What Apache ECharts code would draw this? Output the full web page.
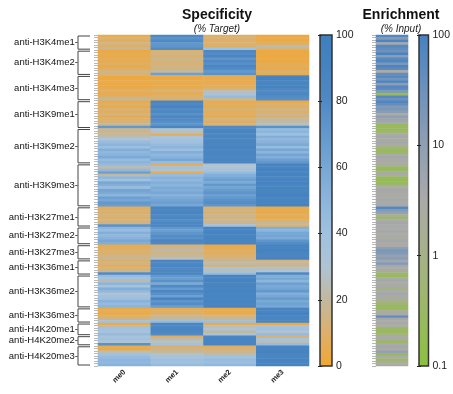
<!DOCTYPE html>
<html><head><meta charset="utf-8">
<script src="https://cdn.jsdelivr.net/npm/echarts@6/dist/echarts.min.js"></script>
<style>html,body{margin:0;padding:0;background:#fff}#c{width:453px;height:394px}</style>
</head><body><div id="c"></div><script>
const marks = ['me0', 'me1', 'me2', 'me3'];
const groups = ['anti-H3K4me1', 'anti-H3K4me2', 'anti-H3K4me3', 'anti-H3K9me1', 'anti-H3K9me2', 'anti-H3K9me3',
  'anti-H3K27me1', 'anti-H3K27me2', 'anti-H3K27me3', 'anti-H3K36me1', 'anti-H3K36me2', 'anti-H3K36me3',
  'anti-H4K20me1', 'anti-H4K20me2', 'anti-H4K20me3'];

// Specificity (% target), rows = antibodies, columns = me0..me3
const specH3K4me1 = [[5,82,10,3],[12,75,13,5],[8,80,9,4],[15,70,12,6],[10,72,8,22],[18,78,40,14]];
const specH3K4me2 = [[3,12,82,3],[6,15,78,4],[4,10,85,2],[8,18,72,5],[5,14,80,3],[10,12,76,6],[4,16,83,8],[7,13,79,4],[15,20,70,10],[12,65,75,5]];
const specH3K4me3 = [[3,4,5,88],[2,3,6,90],[5,6,4,85],[4,5,8,87],[3,4,6,89],[6,8,12,82],[8,10,25,80],[5,6,35,84],[10,12,45,78],[18,10,20,76]];
const specH3K9me1 = [[6,85,5,4],[10,80,8,12],[4,88,6,8],[12,78,12,15],[8,82,7,10],[15,75,10,18],[6,84,5,12],[10,80,14,20],[14,76,8,22],[18,72,12,25],[70,85,80,75]];
const specH3K9me2 = [[18,30,85,45],[16,25,88,50],[20,8,82,42],[24,32,86,55],[35,40,84,48],[45,38,87,52],[50,45,85,58],[42,50,88,45],[55,42,83,60],[48,55,86,50],[52,48,85,62],[58,52,84,55],[45,60,87,65],[50,45,85,70]];
const specH3K9me3 = [[45,8,30,88],[22,40,32,86],[48,28,35,90],[65,6,45,87],[20,45,55,89],[50,52,60,85],[40,48,65,88],[60,55,58,90],[55,50,70,86],[45,58,62,89],[62,55,68,87],[58,60,72,88],[50,52,65,90],[65,58,70,85],[60,62,75,88],[70,65,78,86],[68,60,72,89]];
const specH3K27me1 = [[8,85,12,5],[12,82,15,6],[10,86,10,4],[14,80,18,8],[9,84,13,5],[16,78,20,10],[12,83,15,20],[75,85,40,12]];
const specH3K27me2 = [[50,70,88,55],[45,65,86,50],[55,72,89,60],[48,78,87,62],[52,75,88,58],[60,85,86,72],[55,80,88,78]];
const specH3K27me3 = [[5,12,4,88],[8,18,6,86],[12,22,10,90],[10,15,8,87],[15,20,12,85],[18,25,14,88]];
const specH3K36me1 = [[10,85,18,15],[14,82,22,18],[8,86,15,20],[12,80,35,25],[16,84,25,30],[80,85,45,82]];
const specH3K36me2 = [[45,70,88,55],[40,65,86,60],[22,75,89,50],[50,60,87,65],[35,80,88,58],[55,68,86,62],[48,85,89,70],[30,75,87,55],[38,65,88,60],[42,88,86,68],[52,72,89,58],[45,78,87,64],[50,68,88,60]];
const specH3K36me3 = [[4,6,5,88],[6,8,4,86],[5,12,8,90],[10,18,15,87],[14,20,18,85],[40,45,42,88]];
const specH4K20me1 = [[5,85,6,4],[22,82,25,35],[40,86,30,40],[35,84,20,30],[45,80,35,45]];
const specH4K20me2 = [[35,8,85,12],[40,22,88,35],[30,28,86,25],[75,40,87,45]];
const specH4K20me3 = [[6,10,8,88],[4,15,12,86],[25,20,18,90],[40,28,22,87],[45,35,40,85],[50,42,45,88],[48,40,42,86],[52,45,48,89]];

// Enrichment (% input), one value per antibody row
const enrichment = [
  70,15,80,4,60,45,
  30,90,12,60,75,20,85,50,3,40,
  65,25,80,12,70,50,18,0.25,60,30,
  75,40,15,20,12,3,10,6,4,0.3,0.25,
  0.3,0.4,3,4,2.5,4,3,0.8,0.3,0.25,3,4,2.5,3,
  3,0.3,0.25,2.5,3,0.3,0.2,0.25,0.4,3,4,3.5,2.5,3,4,3,3.5,
  60,15,8,1.2,0.5,3,4,3.5,
  3,4,3.5,2.5,3,4,3,
  3,10,20,15,8,12,
  5,15,4,3,2.5,0.6,
  0.2,3,4,2.5,3.5,0.8,3,4,2.5,3,1,0.5,0.25,
  0.25,2.5,3,40,4,3,
  2.5,3,0.3,0.25,1,
  3,2.5,0.3,3,
  4,3,8,0.3,3,0.6,1,3
];

const specColors = ['#F2A632','#DDB06A','#C2B89E','#AFC3D3','#A0C1E0','#8CB5DC','#77A7D5','#6299CD','#5089C4','#4583C0','#3F7FBD'];
const enrColors = ['#8CC03F','#9BB865','#A6B188','#AAAAA8','#8F9FB3','#6D91BE','#4682C0'];

const FONT = 'Liberation Sans, Arial, sans-serif';
const specRows = [].concat(specH3K4me1, specH3K4me2, specH3K4me3, specH3K9me1, specH3K9me2, specH3K9me3,
  specH3K27me1, specH3K27me2, specH3K27me3, specH3K36me1, specH3K36me2, specH3K36me3,
  specH4K20me1, specH4K20me2, specH4K20me3);
const groupSizes = [specH3K4me1, specH3K4me2, specH3K4me3, specH3K9me1, specH3K9me2, specH3K9me3,
  specH3K27me1, specH3K27me2, specH3K27me3, specH3K36me1, specH3K36me2, specH3K36me3,
  specH4K20me1, specH4K20me2, specH4K20me3].map(a => a.length);
const rowNames = specRows.map((_, i) => 'Ab' + (i + 1));
const specData = [];
specRows.forEach((r, i) => r.forEach((v, j) => specData.push([j, i, v])));
const enrData = enrichment.map((v, i) => [0, i, Math.log10(v), v]);
let st = 0;
const groupData = groups.map((g, k) => { const d = [0, st, st + groupSizes[k] - 1, k]; st += groupSizes[k]; return d; });

function grad(colors) {
  return { type: 'linear', x: 0, y: 1, x2: 0, y2: 0,
    colorStops: colors.map((c, i) => ({ offset: i / (colors.length - 1), color: c })) };
}
const cbAxis = (gi, extra, pos, labels) => Object.assign({
  gridIndex: gi, position: pos, axisLine: { show: false }, splitLine: { show: false },
  axisTick: { show: true, inside: true, length: 2, lineStyle: { color: '#222', width: 1 } },
  axisLabel: { show: labels, fontSize: 10.5, color: '#222', fontFamily: FONT, margin: 4 }
}, extra);
const rowAxis = gi => ({
  gridIndex: gi, type: 'category', data: rowNames, inverse: true,
  axisLine: { show: false }, axisLabel: { show: false },
  axisTick: { show: true, interval: 0, length: 4, lineStyle: { color: '#b8b8b8', width: 1 } }
});

const chart = echarts.init(document.getElementById('c'));
chart.setOption({
  animation: false,
  title: [
    { text: 'Specificity', subtext: '(% Target)', left: 212, top: 3, textAlign: 'center', itemGap: 2,
      textStyle: { fontFamily: FONT, fontWeight: 'bold', fontSize: 14, color: '#111' },
      subtextStyle: { fontFamily: FONT, fontStyle: 'italic', fontSize: 10, color: '#222' } },
    { text: 'Enrichment', subtext: '(% Input)', left: 396, top: 3, textAlign: 'center', itemGap: 2,
      textStyle: { fontFamily: FONT, fontWeight: 'bold', fontSize: 14, color: '#111' },
      subtextStyle: { fontFamily: FONT, fontStyle: 'italic', fontSize: 10, color: '#222' } }
  ],
  grid: [
    { left: 98, top: 35, width: 211, height: 331 },
    { left: 376, top: 35, width: 32, height: 331 },
    { left: 320, top: 35, width: 12, height: 331, show: true, backgroundColor: grad(specColors), borderColor: '#333', borderWidth: 1.5 },
    { left: 419, top: 35, width: 12, height: 331, show: true, backgroundColor: grad(enrColors), borderColor: '#333', borderWidth: 1.5 }
  ],
  xAxis: [
    { gridIndex: 0, type: 'category', data: marks, axisLine: { show: false }, axisTick: { show: false },
      axisLabel: { rotate: 45, fontSize: 7.5, fontWeight: 'bold', color: '#222', fontFamily: FONT, margin: 5 } },
    { gridIndex: 1, type: 'category', data: ['E'], show: false },
    { gridIndex: 2, type: 'value', show: false, min: 0, max: 1 },
    { gridIndex: 3, type: 'value', show: false, min: 0, max: 1 }
  ],
  yAxis: [
    rowAxis(0), rowAxis(1),
    cbAxis(2, { type: 'value', min: 0, max: 100, interval: 20 }, 'right', true),
    cbAxis(2, { type: 'value', min: 0, max: 100, interval: 20 }, 'left', false),
    cbAxis(3, { type: 'log', logBase: 10, min: 0.1, max: 100 }, 'right', true),
    cbAxis(3, { type: 'log', logBase: 10, min: 0.1, max: 100 }, 'left', false)
  ],
  visualMap: [
    { type: 'continuous', show: false, min: 0, max: 100, dimension: 2, seriesIndex: 0, inRange: { color: specColors } },
    { type: 'continuous', show: false, min: -1, max: 2, dimension: 2, seriesIndex: 1, inRange: { color: enrColors } }
  ],
  series: [
    { type: 'heatmap', xAxisIndex: 0, yAxisIndex: 0, data: specData },
    { type: 'heatmap', xAxisIndex: 1, yAxisIndex: 1, data: enrData },
    { type: 'custom', xAxisIndex: 0, yAxisIndex: 0, data: groupData, encode: { x: 0, y: 1 }, clip: false, silent: true,
      renderItem: function (params, api) {
        const s = api.value(1), e = api.value(2), k = api.value(3);
        const h = api.size([0, 1])[1];
        const cw = api.size([1, 0])[0];
        const p0 = api.coord([0, s]), p1 = api.coord([0, e]);
        const left = p0[0] - cw / 2;
        const top = p0[1] - h / 2 + 1, bot = p1[1] + h / 2 - 1;
        const bx = left - 20, ex = left - 8;
        return { type: 'group', children: [
          { type: 'polyline', shape: { points: [[ex, top], [bx, top], [bx, bot], [ex, bot]] },
            style: { stroke: '#444', lineWidth: 1, fill: null } },
          { type: 'text', style: { text: groups[k] + '-', x: bx, y: (top + bot) / 2, textAlign: 'right',
            textVerticalAlign: 'middle', fontSize: 9.5, fontFamily: FONT, fill: '#111' } }
        ] };
      } }
  ]
});
</script></body></html>
